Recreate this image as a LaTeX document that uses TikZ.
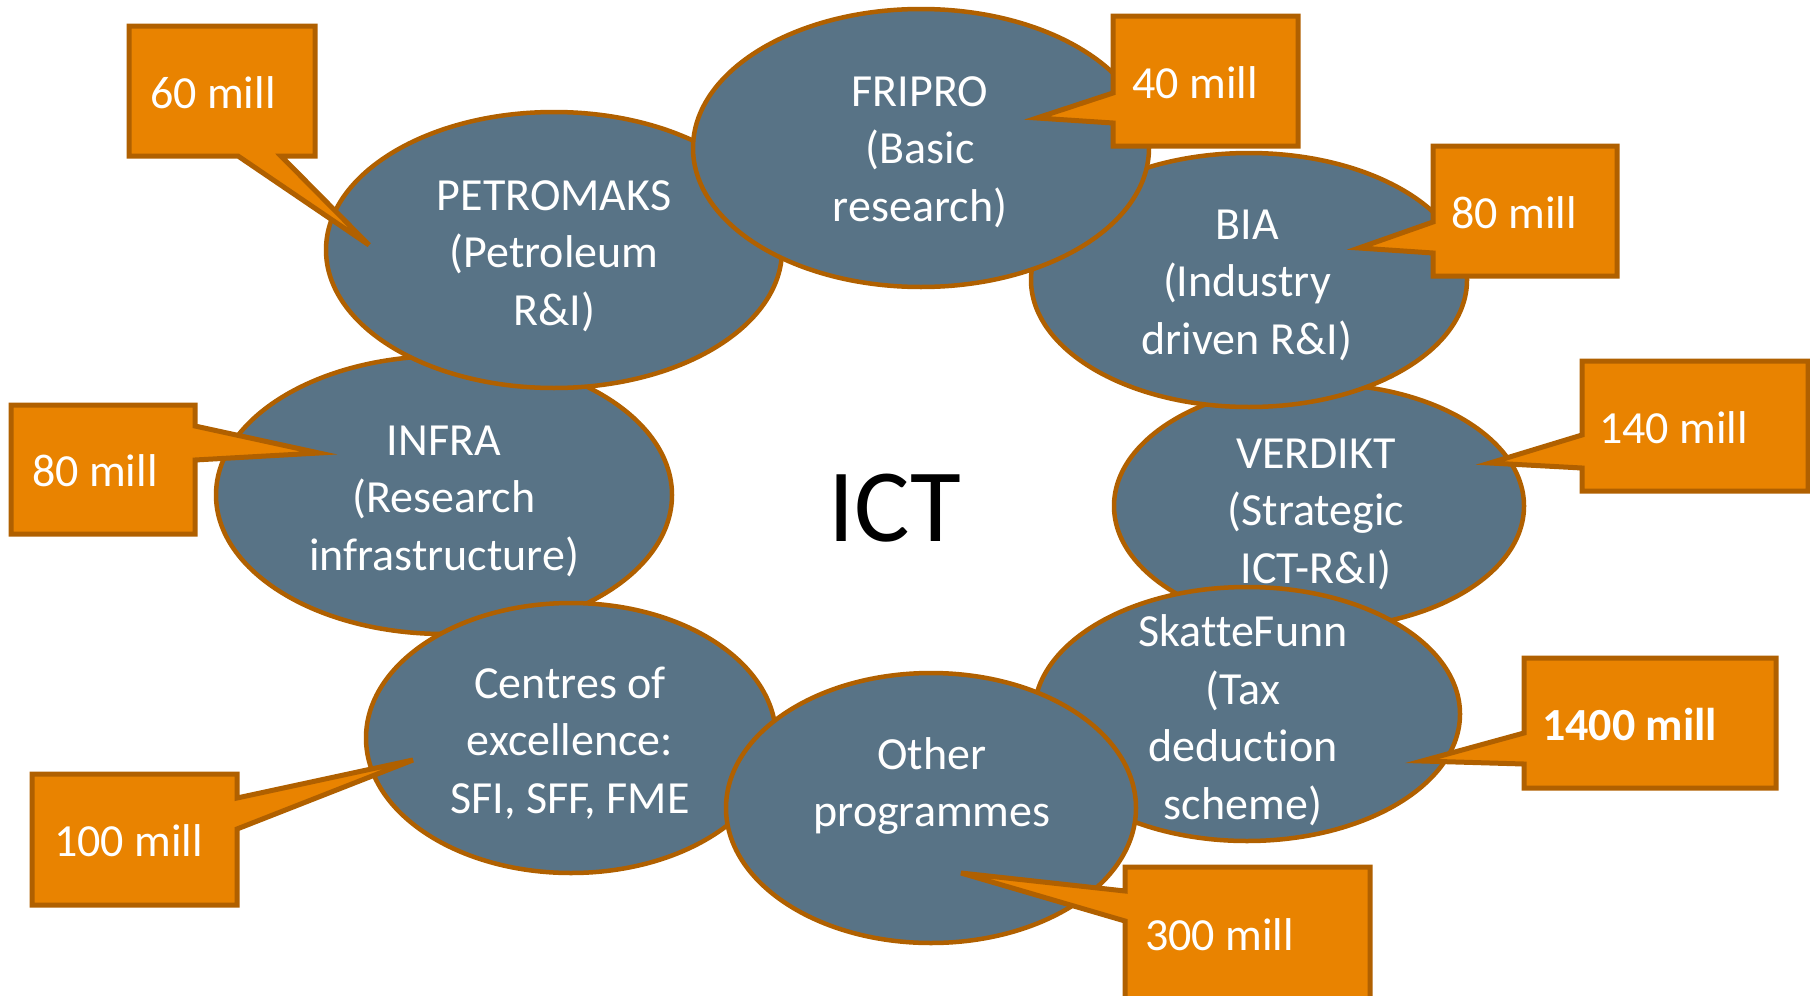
\documentclass[tikz,border=0pt]{standalone}
\usepackage{fontspec}
\setmainfont{Carlito}[Ligatures=NoCommon]
\definecolor{blobfill}{RGB}{88,115,134}
\definecolor{edgebrown}{RGB}{176,96,0}
\definecolor{calloutfill}{RGB}{233,131,0}
\tikzset{
  blob/.style={fill=blobfill, draw=edgebrown, line width=4.5pt},
  blobtext/.style={text=white, align=center, inner sep=0pt, font=\fontsize{46}{57.5}\selectfont},
  callout/.style={fill=calloutfill, draw=edgebrown, line width=5pt, line join=miter},
  callouttext/.style={text=white, anchor=west, inner sep=0pt, font=\fontsize{46}{55}\selectfont},
}
\begin{document}
\begin{tikzpicture}[x=1pt,y=-1pt]
\useasboundingbox (0,0) rectangle (1810,996);
% ellipses in stacking order
\path[blob] (444,495) ellipse [x radius=228, y radius=139];
\node[blobtext] (infra) at (444,501) {INFRA\\(Research\\infrastructure)};
\path[blob] (554,250) ellipse [x radius=228, y radius=138];
\node[blobtext] (petro) at (554,256) {PETROMAKS\\(Petroleum\\R\&I)};
\path[blob] (1319,506) ellipse [x radius=205, y radius=122];
\node[blobtext] (verdikt) at (1316,514) {VERDIKT\\(Strategic\\ICT-R\&I)};
\path[blob] (1249,280) ellipse [x radius=218, y radius=127];
\node[blobtext] (bia) at (1247,285) {BIA\\(Industry\\driven R\&I)};
\path[blob] (921,148) ellipse [x radius=228, y radius=139];
\node[blobtext] (fripro) at (920,152) {FRIPRO\\(Basic\\research)};
\path[blob] (571,738) ellipse [x radius=205, y radius=135];
\node[blobtext] (centres) at (570,743) {Centres of\\excellence:\\SFI, SFF, FME};
\path[blob] (1247,714) ellipse [x radius=213, y radius=127];
\node[blobtext] (skatte) at (1243,720) {SkatteFunn\\(Tax\\deduction\\scheme)};
\path[blob] (931,808) ellipse [x radius=205, y radius=135];
\node[blobtext] (other) at (932,786) {Other\\programmes};
% centre label
\node[font=\fontsize{104}{120}\selectfont, inner sep=0pt] (ict) at (895,508) {ICT};
% callouts
\path[callout] (129,26) -- (315,26) -- (315,156) -- (281,156) -- (369,245) -- (238,156) -- (129,156) -- cycle;
\node[callouttext] (c60) at (150,93) {60 mill};
\path[callout] (1113,16) -- (1298,16) -- (1298,146) -- (1113,146) -- (1113,123) -- (1037,118) -- (1113,93) -- cycle;
\node[callouttext] (c40) at (1132,83) {40 mill};
\path[callout] (1433,146) -- (1617,146) -- (1617,276) -- (1433,276) -- (1433,253) -- (1359,248) -- (1433,222) -- cycle;
\node[callouttext] (c80a) at (1451,213) {80 mill};
\path[callout] (1582,361) -- (1808,361) -- (1808,491) -- (1582,491) -- (1582,468) -- (1490,463) -- (1582,435) -- cycle;
\node[callouttext] (c140) at (1599,428) {140 mill};
\path[callout] (11,405) -- (195,405) -- (195,426) -- (319,453) -- (195,460) -- (195,534) -- (11,534) -- cycle;
\node[callouttext] (c80b) at (32,471) {80 mill};
\path[callout] (32,774) -- (237,774) -- (237,798) -- (413,760) -- (237,829) -- (237,905) -- (32,905) -- cycle;
\node[callouttext] (c100) at (54,841) {100 mill};
\path[callout] (1524,658) -- (1776,658) -- (1776,788) -- (1524,788) -- (1524,764) -- (1422,761) -- (1524,733) -- cycle;
\node[callouttext, font=\fontsize{46}{55}\selectfont\bfseries] (c1400) at (1542,725) {1400 mill};
\path[callout] (1125,867) -- (1370,867) -- (1370,1002) -- (1125,1002) -- (1125,921) -- (961,873) -- (1125,891) -- cycle;
\node[callouttext] (c300) at (1145,935) {300 mill};
\end{tikzpicture}
\end{document}
